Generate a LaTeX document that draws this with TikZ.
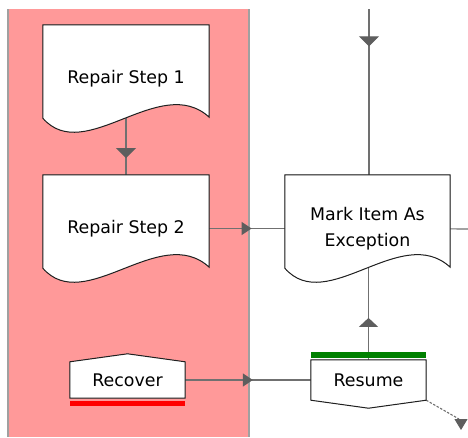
\documentclass[tikz,border=0pt]{standalone}
\usepackage{fontspec}
\setmainfont{DejaVu Sans}
\usetikzlibrary{arrows.meta,decorations.markings,calc}

\definecolor{lanepink}{HTML}{FF9999}
\definecolor{laneedge}{HTML}{A0A0A0}
\definecolor{linegray}{HTML}{707070}
\definecolor{tipgray}{HTML}{5E5E5E}
\definecolor{boxedge}{HTML}{202020}
\definecolor{shade}{HTML}{7A7A7A}
\definecolor{okgreen}{HTML}{008000}

\pgfdeclarelayer{lane}
\pgfdeclarelayer{conn}
\pgfdeclarelayer{shapes}
\pgfsetlayers{lane,conn,shapes,main}

% document-style box: straight top and sides, wavy bottom
\newcommand\drawdoc[1]{%
  \fill[shade, shift={(1.8,1.8)}]
    (#1.north west) -- (#1.north east) -- ($(#1.south east)+(0,-15)$)
    .. controls ($(#1.south east)+(-49,-60)$) and ($(#1.south west)+(42,34)$) ..
    ($(#1.south west)+(0,-14)$) -- cycle;
  \filldraw[boxface]
    (#1.north west) -- (#1.north east) -- ($(#1.south east)+(0,-15)$)
    .. controls ($(#1.south east)+(-49,-60)$) and ($(#1.south west)+(42,34)$) ..
    ($(#1.south west)+(0,-14)$) -- cycle;
}

\begin{document}
\begin{tikzpicture}[x=1pt,y=-1pt,
  font=\fontsize{17.4}{26}\selectfont,
  txt/.style={inner sep=0pt, align=center},
  boxface/.style={fill=white, draw=boxedge, line width=1pt, line join=miter},
  flow/.style={draw=linegray, line width=1.1pt},
  vtip/.style={postaction={decorate}, decoration={markings,
      mark=at position #1 with {\arrow[tipgray]{Triangle[width=20pt,length=10pt]}}}},
  htip/.style={postaction={decorate}, decoration={markings,
      mark=at position #1 with {\arrow[tipgray]{Triangle[width=13pt,length=10pt]}}}},
  utip/.style={postaction={decorate}, decoration={markings,
      mark=at position #1 with {\arrow[tipgray]{Triangle[width=19pt,length=9pt]}}}},
]
\useasboundingbox (0,0) rectangle (468,437);

% swimlane
\begin{pgfonlayer}{lane}
  \fill[lanepink] (8,9) rectangle (249,437);
  \draw[laneedge, line width=1.5pt] (8,9) -- (8,437);
  \draw[laneedge, line width=1.5pt] (249,9) -- (249,437);
\end{pgfonlayer}

% nodes (text only; outlines are drawn on the shapes layer)
\node[txt, minimum width=166pt, minimum height=107pt] (rs1) at (126,78.5) {Repair Step 1};
\node[txt, minimum width=166pt, minimum height=107pt] (rs2) at (126,228.5) {Repair Step 2};
\node[txt, minimum width=165pt, minimum height=107pt] (mk) at (367.5,228.5) {Mark Item As\\Exception};
\node[txt, minimum width=115pt, minimum height=36pt] (rec) at (127.5,380) {Recover};
\node[txt, minimum width=115pt, minimum height=40pt] (res) at (368.5,380) {Resume};

\coordinate (intop) at (369,9);
\coordinate (outr) at (468,229);
\coordinate (dropa) at (459,419);
\coordinate (dropb) at (461,430);

% connectors
\begin{pgfonlayer}{conn}
  \draw[flow, vtip=0.17] (intop) -- (intop |- mk.center);
  \draw[flow, vtip=0.53] (rs1.center) -- (rs2.center);
  \draw[flow, htip=0.52] (rs2.center) -- (mk.center);
  \draw[flow] (mk.center) -- (outr);
  \draw[flow, htip=0.52] (rec.center) -- (res.center);
  \draw[flow, utip=0.41] (res.center) -- (res.center |- mk.center);
  \draw[linegray, line width=1.1pt, dash pattern=on 2.5pt off 1.5pt]
    (res.south east) -- (dropa);
  \draw[tipgray, line width=1pt, -{Triangle[width=13pt,length=11pt]}]
    (dropa -| dropb) -- (dropb);
\end{pgfonlayer}

% shapes
\begin{pgfonlayer}{shapes}
  \drawdoc{rs1}
  \drawdoc{rs2}
  \drawdoc{mk}
  % recover: pointed top, red bar beneath
  \fill[shade, shift={(1.8,1.8)}] (rec.south west) -- (rec.north west) -- ($(rec.north)+(0,-8)$)
    -- (rec.north east) -- (rec.south east) -- cycle;
  \filldraw[boxface] (rec.south west) -- (rec.north west) -- ($(rec.north)+(0,-8)$)
    -- (rec.north east) -- (rec.south east) -- cycle;
  \fill[red] ($(rec.south west)+(0,2.5)$) rectangle ($(rec.south east)+(0,8)$);
  % resume: pointed bottom, green bar above
  \fill[shade, shift={(1.8,1.8)}] (res.north west) -- (res.north east) -- (res.south east)
    -- ($(res.south)+(0,8)$) -- (res.south west) -- cycle;
  \filldraw[boxface] (res.north west) -- (res.north east) -- (res.south east)
    -- ($(res.south)+(0,8)$) -- (res.south west) -- cycle;
  \fill[okgreen] ($(res.north west)+(0,-8)$) rectangle ($(res.north east)+(0,-2)$);
\end{pgfonlayer}
\end{tikzpicture}
\end{document}
